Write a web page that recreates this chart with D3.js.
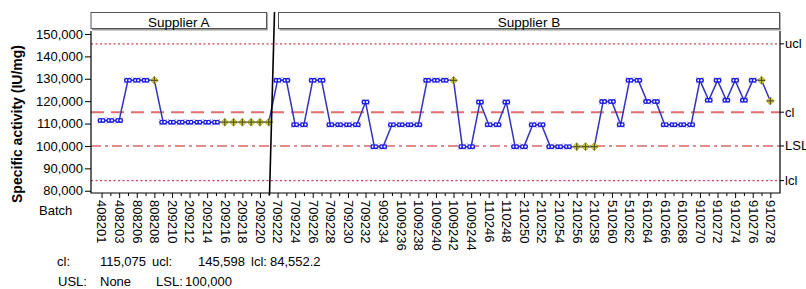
<!DOCTYPE html>
<html>
<head>
<meta charset="utf-8">
<script src="https://cdn.jsdelivr.net/npm/d3@7"></script>
<style>
    body { margin: 0; background: #fff; }
    svg { font-family: "Liberation Sans", Arial, sans-serif; }
</style>
</head>
<body>
<svg id="chart" width="806" height="289"></svg>
<script>
// batch labels shown on the axis (every other point)
const batchLabels = ["408201", "408203", "808206", "808208", "209210", "209212", "209214", "209216",
    "209218", "209220", "709222", "709224", "709226", "709228", "709230", "709232", "909234",
    "1009236", "1009238", "1009240", "1009242", "1009244", "110246", "110248", "210250", "210252",
    "210254", "210256", "210258", "510260", "510262", "610264", "610266", "610268", "910270",
    "910272", "910274", "910276", "910278"];

const supplierA = [111400, 111400, 111400, 129300, 129300, 129300, 129300, 110600, 110600, 110600,
    110600, 110600, 110600, 110600, 110600, 110600, 110600, 110600, 110600, 110600];

const supplierB = [129300, 129300, 109500, 109500, 129300, 129300, 109500, 109500, 109500, 109500,
    119600, 99700, 99700, 109500, 109500, 109500, 109500, 129300, 129300, 129300,
    129300, 99700, 99700, 119600, 109500, 109500, 119600, 99700, 99700, 109500,
    109500, 99700, 99700, 99700, 99700, 99700, 99700, 119800, 119800, 109500,
    129300, 129300, 119800, 119800, 109500, 109500, 109500, 109500, 129300, 120400,
    129300, 120400, 129300, 120400, 129300, 129300, 120100];

// points flagged by the tests (drawn yellow), as positions in the run
const flagged = [6, 14, 15, 16, 17, 18, 19, 40, 54, 55, 56, 75, 76];

const limitNames = ["ucl", "cl", "LSL", "lcl"];
const limitValues = [145598, 115075, 100000, 84552.2];

const yTicks = [80000, 90000, 100000, 110000, 120000, 130000, 140000, 150000];

const summaryLine1 = [["cl:", "115,075"], ["ucl:", "145,598"], ["lcl:", "84,552.2"]];
const summaryLine2 = [["USL:", "None"], ["LSL:", "100,000"]];

function drawChart() {
    let svg = d3.select("#chart");
    let values = supplierA.concat(supplierB);
    let points = values.map((v, i) => ({i: i, v: v, flag: flagged.indexOf(i) >= 0}));

    let left = 91, right = 780, top = 31, bottom = 193;
    let x = d3.scaleLinear().domain([-1.2, 77.1]).range([left, right]);
    let y = d3.scaleLinear().domain([79000, 151330]).range([bottom, top]);

    // strips
    let strips = [
        {name: "Supplier A", x0: left, x1: 266.5},
        {name: "Supplier B", x0: 278.5, x1: 779.5}
    ];
    strips.forEach(s => {
        svg.append("line").attr("x1", s.x0 + 1).attr("x2", s.x1 + 1).attr("y1", 29.5).attr("y2", 29.5)
            .attr("stroke", "#999").attr("stroke-width", 2);
        svg.append("line").attr("x1", s.x1 + 0.5).attr("x2", s.x1 + 0.5).attr("y1", 13).attr("y2", 30)
            .attr("stroke", "#999").attr("stroke-width", 1.5);
        svg.append("rect").attr("x", s.x0).attr("y", 12.5).attr("width", s.x1 - s.x0).attr("height", 16)
            .attr("fill", "#fff").attr("stroke", "#555").attr("stroke-width", 1);
        svg.append("text").attr("x", (s.x0 + s.x1) / 2).attr("y", 26.5).attr("text-anchor", "middle")
            .attr("font-size", "13.5px").text(s.name);
    });

    // control and spec limit lines
    let limitStyle = {
        ucl: {color: "#d2405c", dash: "2,2.5", w: 1.3},
        cl: {color: "#dc7070", dash: "13,7", w: 2},
        LSL: {color: "#d86868", dash: "10,4,3,4", w: 1.6},
        lcl: {color: "#d2405c", dash: "2,2.5", w: 1.3}
    };
    limitNames.forEach((name, k) => {
        let st = limitStyle[name];
        let ly = y(limitValues[k]);
        svg.append("line").attr("x1", left).attr("x2", right).attr("y1", ly).attr("y2", ly)
            .attr("stroke", st.color).attr("stroke-width", st.w).attr("stroke-dasharray", st.dash);
        svg.append("line").attr("x1", right).attr("x2", right + 4).attr("y1", ly).attr("y2", ly)
            .attr("stroke", "#000");
        svg.append("text").attr("x", right + 5).attr("y", ly + 4.5).attr("font-size", "13px").text(name);
    });

    // data line
    let line = d3.line().x(d => x(d.i)).y(d => y(d.v));
    svg.append("path").datum(points).attr("d", line)
        .attr("fill", "none").attr("stroke", "#3434c0").attr("stroke-width", 1.5);

    // markers
    let blue = points.filter(d => !d.flag);
    let yellow = points.filter(d => d.flag);
    let bg = svg.append("g");
    blue.forEach(d => {
        let cx = x(d.i), cy = y(d.v);
        bg.append("path")
            .attr("d", `M${cx - 4},${cy - 3}L${cx + 4},${cy + 3}M${cx - 4},${cy + 3}L${cx + 4},${cy - 3}`)
            .attr("stroke", "#8a8ae8").attr("stroke-width", 0.8);
        bg.append("circle").attr("cx", cx - 1.5).attr("cy", cy).attr("r", 1.8)
            .attr("fill", "#fff").attr("stroke", "#1c1ce0").attr("stroke-width", 1.4);
        bg.append("circle").attr("cx", cx + 1.5).attr("cy", cy).attr("r", 1.8)
            .attr("fill", "#fff").attr("stroke", "#1c1ce0").attr("stroke-width", 1.4);
    });
    yellow.forEach(d => {
        let cx = x(d.i), cy = y(d.v);
        bg.append("path")
            .attr("d", `M${cx},${cy - 4}L${cx + 4},${cy}L${cx},${cy + 4}L${cx - 4},${cy}Z`)
            .attr("fill", "#d6d43a").attr("stroke", "#a8a630").attr("stroke-width", 0.8);
        bg.append("path")
            .attr("d", `M${cx - 3.5},${cy}L${cx + 3.5},${cy}M${cx},${cy - 3.5}L${cx},${cy + 3.5}`)
            .attr("stroke", "#555520").attr("stroke-width", 1.2);
    });

    // frame
    svg.append("path").attr("d", `M${left},${top}V${bottom}H${right}V${top}`)
        .attr("fill", "none").attr("stroke", "#000").attr("stroke-width", 1.2);

    // phase separator
    svg.append("line").attr("x1", 274.5).attr("y1", 12).attr("x2", 269.5).attr("y2", 195)
        .attr("stroke", "#000").attr("stroke-width", 1.6);

    // y axis
    let yAxis = d3.axisLeft(y).tickValues(yTicks).tickFormat(d3.format(",")).tickSize(6).tickSizeOuter(0).tickPadding(2);
    let gy = svg.append("g").attr("transform", `translate(${left},0)`).call(yAxis);
    gy.select(".domain").remove();
    gy.selectAll("text").attr("font-size", "13px").attr("font-family", "Liberation Sans, Arial, sans-serif")
        .attr("fill", "#000");

    // x axis
    let xAxis = d3.axisBottom(x).tickValues(d3.range(77)).tickSizeOuter(0)
        .tickFormat(i => i % 2 === 0 ? batchLabels[i / 2] : "");
    let gx = svg.append("g").attr("transform", `translate(0,${bottom})`).call(xAxis);
    gx.select(".domain").remove();
    gx.selectAll(".tick line").attr("y2", d => d % 2 === 0 ? 5 : 3);
    gx.selectAll(".tick text").attr("font-size", "13px").attr("font-family", "Liberation Sans, Arial, sans-serif")
        .attr("fill", "#000").attr("text-anchor", "start")
        .attr("transform", "rotate(90)").attr("x", 7).attr("y", 0).attr("dy", "0.36em");

    // axis titles
    svg.append("text").attr("transform", "translate(22,124) rotate(-90)").attr("text-anchor", "middle")
        .attr("font-size", "14px").attr("font-weight", "bold").text("Specific activity (IU/mg)");
    svg.append("text").attr("x", 39).attr("y", 215).attr("font-size", "13px").text("Batch");

    // summary text
    let pos1 = [[57, 100], [152, 198], [251, 270]];
    summaryLine1.forEach((pair, k) => {
        svg.append("text").attr("x", pos1[k][0]).attr("y", 266).attr("font-size", "13px").text(pair[0]);
        svg.append("text").attr("x", pos1[k][1]).attr("y", 266).attr("font-size", "13px").text(pair[1]);
    });
    let pos2 = [[58, 100], [156, 185]];
    summaryLine2.forEach((pair, k) => {
        svg.append("text").attr("x", pos2[k][0]).attr("y", 286).attr("font-size", "13px").text(pair[0]);
        svg.append("text").attr("x", pos2[k][1]).attr("y", 286).attr("font-size", "13px").text(pair[1]);
    });
}

drawChart();
</script>
</body>
</html>
